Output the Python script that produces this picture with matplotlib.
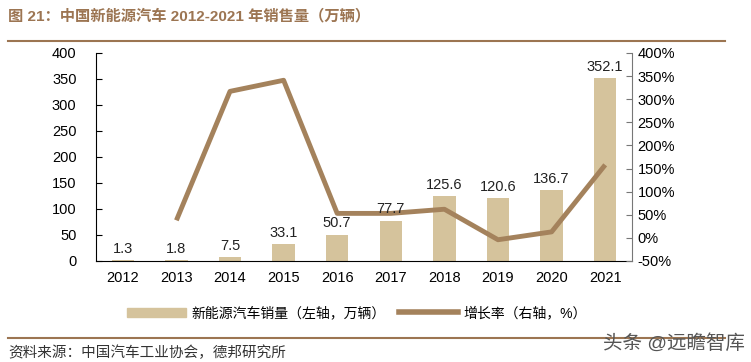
import matplotlib
matplotlib.use("Agg")
import matplotlib.pyplot as plt
from matplotlib.lines import Line2D
from matplotlib.patches import Patch
from matplotlib.ticker import FuncFormatter

plt.rcParams['font.family'] = ['Liberation Sans', 'Noto Sans CJK SC', 'DejaVu Sans']

years = ['2012', '2013', '2014', '2015', '2016', '2017', '2018', '2019', '2020', '2021']
sales = [1.3, 1.8, 7.5, 33.1, 50.7, 77.7, 125.6, 120.6, 136.7, 352.1]
growth = [None, 38, 317, 341, 53, 53, 62, -4, 13, 158]

bar_color = '#D5C39C'
line_color = '#A4825C'
brown = '#9C7552'

fig = plt.figure(figsize=(7.51, 3.62), dpi=100)
ax = fig.add_axes([96/751, 1-261/362, 536/751, 208/362])
x = list(range(len(years)))
ax.bar(x, sales, width=0.42, color=bar_color, zorder=2)
ax.set_xlim(-0.5, 9.5)
ax.set_ylim(0, 400)
ax.set_yticks(range(0, 401, 50))
ax.set_xticks(x)
ax.set_xticklabels(years)
ax.tick_params(axis='x', length=0, pad=7, labelsize=10.5)
ax.tick_params(axis='y', direction='in', length=4, labelsize=10.5, pad=14)
ax.spines['top'].set_visible(False)
ax.spines['right'].set_visible(False)

ax2 = ax.twinx()
gx = [xi for xi, g in zip(x, growth) if g is not None]
gy = [g for g in growth if g is not None]
ax2.plot(gx, gy, color=line_color, lw=3.5, zorder=3, solid_capstyle='butt')
ax2.set_ylim(-50, 400)
ax2.set_yticks(range(-50, 401, 50))
ax2.yaxis.set_major_formatter(FuncFormatter(lambda v, p: f'{int(v)}%'))
ax2.tick_params(axis='y', direction='in', length=4, labelsize=10.5, pad=4, color='#777777')
ax2.spines['top'].set_visible(False)
ax2.spines['left'].set_visible(False)
ax2.spines['bottom'].set_visible(False)
ax2.spines['right'].set_color('#777777')

# value labels sit above the growth line
for xi, v in zip(x, sales):
    ax2.text(xi, v + 8, f'{v:.1f}', ha='center', va='bottom', fontsize=10.5,
             color='#222222', transform=ax.transData, zorder=5)

handles = [Patch(color=bar_color), Line2D([0], [0], color=line_color, lw=4)]
labels = ['新能源汽车销量（左轴，万辆）', '增长率（右轴，%）']
fig.legend(handles, labels, loc='center', bbox_to_anchor=(357/751, 1-313/362), ncol=2,
           frameon=False, fontsize=10, handlelength=4.2, handleheight=0.6,
           columnspacing=1.0, handletextpad=0.4)

fig.text(8/751, 1-16/362, '图 21：中国新能源汽车 2012-2021 年销售量（万辆）', fontsize=11,
         fontweight='bold', color=brown, va='center')
fig.add_artist(Line2D([8/751, 725/751], [1-41/362, 1-41/362], color=brown, lw=1.5))
fig.add_artist(Line2D([8/751, 725/751], [1-338/362, 1-338/362], color=brown, lw=1.5))
fig.text(8/751, 1-353/362, '资料来源：中国汽车工业协会，德邦研究所', fontsize=10.5, color='#333333', va='center')
fig.text(745/751, 1-343/362, '头条 @远瞻智库', fontsize=14, color='#555555', ha='right', va='center')

fig.savefig('out.png', dpi=100)
